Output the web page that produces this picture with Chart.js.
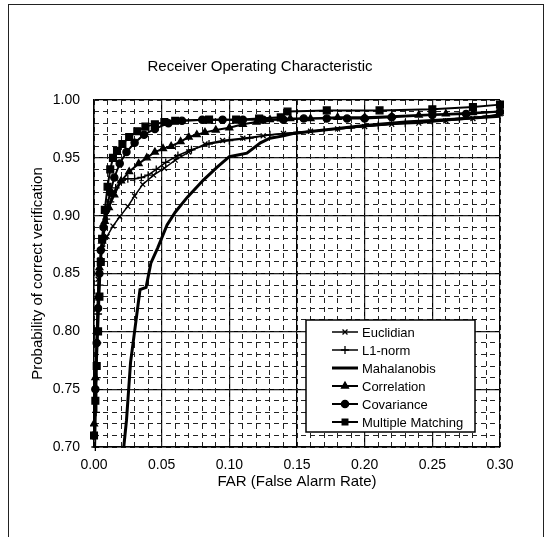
<!DOCTYPE html>
<html lang="en">
<head>
  <meta charset="UTF-8">
  <title>Receiver Operating Characteristic</title>
  <script src="https://cdn.jsdelivr.net/npm/chart.js"></script>
  <style>
    body {
      margin: 0;
      background-color: #fff;
    }

    .frame {
      position: absolute;
      left: 8px;
      top: 4px;
      width: 534px;
      height: 600px;
      border: 1.5px solid #222;
    }

    .wrap {
      position: absolute;
      left: 0;
      top: 0;
      width: 547px;
      height: 537px;
    }
  </style>
</head>
<body>

  <div class="frame"></div>
  <div class="wrap"><canvas id="rocChart"></canvas></div>

<script>
// tick labels
const xTicks = [0.00, 0.05, 0.10, 0.15, 0.20, 0.25, 0.30];
const yTicks = [0.70, 0.75, 0.80, 0.85, 0.90, 0.95, 1.00];
const xMinor = [0.00, 0.01, 0.02, 0.03, 0.04, 0.05, 0.06, 0.07, 0.08, 0.09, 0.10, 0.11, 0.12, 0.13, 0.14, 0.15,
                0.16, 0.17, 0.18, 0.19, 0.20, 0.21, 0.22, 0.23, 0.24, 0.25, 0.26, 0.27, 0.28, 0.29, 0.30];
const yMinor = [0.70, 0.71, 0.72, 0.73, 0.74, 0.75, 0.76, 0.77, 0.78, 0.79, 0.80, 0.81, 0.82, 0.83, 0.84, 0.85,
                0.86, 0.87, 0.88, 0.89, 0.90, 0.91, 0.92, 0.93, 0.94, 0.95, 0.96, 0.97, 0.98, 0.99, 1.00];

const seriesNames = ['Euclidian', 'L1-norm', 'Mahalanobis', 'Correlation', 'Covariance', 'Multiple Matching'];

// series values (FAR, probability of correct verification)
const euclidX = [0.001, 0.002, 0.003, 0.0045, 0.0065, 0.0096, 0.014, 0.019, 0.025, 0.030, 0.036, 0.044, 0.052, 0.060,
                 0.070, 0.082, 0.095, 0.110, 0.125, 0.140, 0.160, 0.180, 0.200, 0.220, 0.240, 0.260, 0.280, 0.300];
const euclidY = [0.750, 0.800, 0.845, 0.862, 0.872, 0.882, 0.891, 0.899, 0.908, 0.917, 0.927, 0.935, 0.941, 0.948,
                 0.955, 0.962, 0.965, 0.967, 0.969, 0.971, 0.973, 0.975, 0.977, 0.979, 0.980, 0.982, 0.984, 0.988];

const l1X = [0.001, 0.0015, 0.002, 0.0025, 0.003, 0.004, 0.005, 0.007, 0.009, 0.012, 0.016, 0.020, 0.025, 0.030, 0.035,
             0.040, 0.046, 0.053, 0.062, 0.072, 0.085, 0.100, 0.115, 0.130, 0.150, 0.170, 0.190, 0.210, 0.230, 0.250,
             0.270, 0.290, 0.300];
const l1Y = [0.700, 0.730, 0.760, 0.790, 0.815, 0.840, 0.860, 0.880, 0.897, 0.912, 0.924, 0.930, 0.932, 0.932, 0.933,
             0.935, 0.940, 0.946, 0.952, 0.957, 0.962, 0.965, 0.967, 0.970, 0.972, 0.974, 0.976, 0.978, 0.980, 0.982,
             0.984, 0.986, 0.987];

const mahaX = [0.022, 0.024, 0.027, 0.030, 0.034, 0.0385, 0.042, 0.047, 0.054, 0.060, 0.069, 0.081, 0.091, 0.100,
               0.113, 0.123, 0.130, 0.140, 0.147, 0.170, 0.200, 0.230, 0.260, 0.300];
const mahaY = [0.700, 0.723, 0.773, 0.800, 0.836, 0.838, 0.859, 0.872, 0.892, 0.903, 0.916, 0.931, 0.942, 0.951,
               0.954, 0.963, 0.967, 0.969, 0.971, 0.974, 0.978, 0.981, 0.983, 0.986];

const corrX = [0.000, 0.001, 0.002, 0.003, 0.004, 0.006, 0.008, 0.011, 0.015, 0.020, 0.026, 0.033, 0.039, 0.045, 0.051,
               0.057, 0.064, 0.070, 0.076, 0.082, 0.090, 0.100, 0.110, 0.120, 0.130, 0.145, 0.160, 0.180, 0.200, 0.220,
               0.240, 0.260, 0.280, 0.300];
const corrY = [0.720, 0.760, 0.800, 0.830, 0.855, 0.878, 0.895, 0.907, 0.918, 0.930, 0.938, 0.945, 0.950, 0.955, 0.958,
               0.960, 0.964, 0.968, 0.970, 0.972, 0.974, 0.976, 0.979, 0.981, 0.983, 0.984, 0.984, 0.985, 0.985, 0.986,
               0.987, 0.988, 0.989, 0.990];

const covX = [0.000, 0.001, 0.002, 0.003, 0.004, 0.005, 0.007, 0.009, 0.012, 0.015, 0.019, 0.024, 0.030, 0.037, 0.045,
              0.055, 0.065, 0.080, 0.095, 0.110, 0.125, 0.140, 0.155, 0.172, 0.187, 0.200, 0.220, 0.250, 0.275, 0.300];
const covY = [0.710, 0.750, 0.790, 0.820, 0.850, 0.870, 0.890, 0.905, 0.920, 0.933, 0.945, 0.955, 0.963, 0.970, 0.975,
              0.980, 0.982, 0.983, 0.983, 0.983, 0.983, 0.983, 0.984, 0.984, 0.984, 0.984, 0.985, 0.987, 0.988, 0.990];

const multiX = [0.000, 0.001, 0.002, 0.003, 0.004, 0.005, 0.006, 0.008, 0.010, 0.012, 0.014, 0.017, 0.021, 0.026, 0.032,
                0.038, 0.045, 0.052, 0.060, 0.085, 0.105, 0.122, 0.138, 0.143, 0.172, 0.211, 0.250, 0.280, 0.300];
const multiY = [0.710, 0.740, 0.770, 0.800, 0.830, 0.860, 0.880, 0.905, 0.925, 0.940, 0.950, 0.956, 0.962, 0.968, 0.973,
                0.977, 0.979, 0.981, 0.982, 0.983, 0.983, 0.984, 0.985, 0.990, 0.991, 0.991, 0.992, 0.994, 0.996];

const FONT = '"Liberation Sans", Arial, sans-serif';

function pairs(xs, ys) {
  return xs.map((x, i) => ({ x: x, y: ys[i] }));
}

function series(i, xs, ys, style, width, radius) {
  return {
    label: seriesNames[i],
    data: pairs(xs, ys),
    borderColor: '#000',
    backgroundColor: '#000',
    borderWidth: width,
    pointStyle: style,
    pointRadius: radius,
    pointBorderWidth: 1.3,
    pointBackgroundColor: '#000',
    pointBorderColor: '#000',
    tension: 0,
    clip: 4
  };
}

// legend box drawn inside the plot, lower right
const boxLegend = {
  id: 'boxLegend',
  afterDatasetsDraw(chart) {
    const ctx = chart.ctx;
    const area = chart.chartArea;
    const w = 169, h = 112;
    const left = area.right - 25 - w;
    const top = area.bottom - 15 - h;
    ctx.save();
    ctx.fillStyle = '#fff';
    ctx.fillRect(left, top, w, h);
    ctx.strokeStyle = '#000';
    ctx.lineWidth = 1.5;
    ctx.strokeRect(left, top, w, h);
    ctx.font = '13px ' + FONT;
    ctx.textBaseline = 'middle';
    ctx.fillStyle = '#000';
    chart.data.datasets.forEach((ds, i) => {
      const y = top + 12 + i * 18;
      const x0 = left + 26, x1 = left + 52;
      ctx.strokeStyle = '#000';
      ctx.lineWidth = ds.borderWidth;
      ctx.beginPath();
      ctx.moveTo(x0, y);
      ctx.lineTo(x1, y);
      ctx.stroke();
      if (ds.pointRadius > 0) {
        ctx.lineWidth = 1.3;
        Chart.helpers.drawPoint(ctx, { pointStyle: ds.pointStyle, radius: Math.min(ds.pointRadius, 4), rotation: 0, borderWidth: 1.3 },
          (x0 + x1) / 2, y);
        ctx.fill();
      }
      ctx.fillText(ds.label, x1 + 4, y + 1);
    });
    ctx.restore();
  }
};

const ctx = document.getElementById('rocChart').getContext('2d');
new Chart(ctx, {
  type: 'line',
  data: {
    datasets: [
      series(0, euclidX, euclidY, 'crossRot', 1.5, 3.5),
      series(1, l1X, l1Y, 'cross', 1.5, 4),
      series(2, mahaX, mahaY, 'circle', 3, 0),
      series(3, corrX, corrY, 'triangle', 2, 4),
      series(4, covX, covY, 'circle', 2, 3.6),
      series(5, multiX, multiY, 'rect', 2, 4.8)
    ]
  },
  options: {
    responsive: true,
    maintainAspectRatio: false,
    animation: false,
    layout: { padding: { left: 20, right: 47, top: 0, bottom: 44 } },
    plugins: {
      legend: { display: false },
      tooltip: { enabled: false },
      title: {
        display: true,
        text: 'Receiver Operating Characteristic',
        color: '#000',
        font: { family: FONT, size: 15, weight: 'normal' },
        padding: { top: 58, bottom: 24 }
      }
    },
    scales: {
      x: {
        type: 'linear',
        min: 0,
        max: 0.3,
        afterBuildTicks: s => { s.ticks = xTicks.map(v => ({ value: v })); },
        afterFit: s => { s.height = 46; },
        grid: { color: '#000', lineWidth: 1.2, drawTicks: false },
        border: { color: '#000', width: 1.5 },
        ticks: {
          color: '#000',
          padding: 10,
          font: { family: FONT, size: 14 },
          callback: v => v.toFixed(2)
        },
        title: {
          display: true,
          text: 'FAR (False Alarm Rate)',
          color: '#000',
          font: { family: FONT, size: 15 },
          padding: { top: 0, bottom: 2 }
        }
      },
      y: {
        type: 'linear',
        min: 0.7,
        max: 1.0,
        afterBuildTicks: s => { s.ticks = yTicks.map(v => ({ value: v })); },
        afterFit: s => { s.width = 74; },
        grid: { color: '#000', lineWidth: 1.2, drawTicks: false },
        border: { color: '#000', width: 1.5 },
        ticks: {
          color: '#000',
          padding: 14,
          font: { family: FONT, size: 14 },
          callback: v => v.toFixed(2)
        },
        title: {
          display: true,
          text: 'Probability of correct verification',
          color: '#000',
          font: { family: FONT, size: 15 },
          padding: { top: 9, bottom: 0 }
        }
      },
      x2: {
        type: 'linear',
        position: 'bottom',
        min: 0,
        max: 0.3,
        afterBuildTicks: s => { s.ticks = xMinor.map(v => ({ value: v })); },
        afterFit: s => { s.height = 0; },
        grid: { color: '#222', lineWidth: 1, drawTicks: false },
        border: { display: false, dash: [5, 4] },
        ticks: { display: false }
      },
      y2: {
        type: 'linear',
        position: 'left',
        min: 0.7,
        max: 1.0,
        afterBuildTicks: s => { s.ticks = yMinor.map(v => ({ value: v })); },
        afterFit: s => { s.width = 0; },
        grid: { color: '#222', lineWidth: 1, drawTicks: false },
        border: { display: false, dash: [5, 4] },
        ticks: { display: false }
      }
    }
  },
  plugins: [boxLegend]
});
</script>

</body>
</html>
